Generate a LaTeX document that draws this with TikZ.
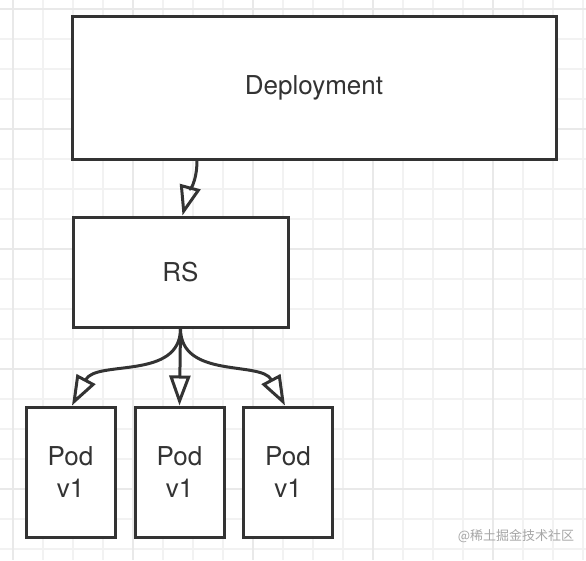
\documentclass[tikz,border=0pt]{standalone}
\usepackage{fontspec}
\setmainfont{TeX Gyre Heros}
\newfontfamily\cjk{Noto Sans CJK SC}
\usetikzlibrary{arrows.meta,positioning}
\definecolor{inkgray}{RGB}{51,51,51}
\definecolor{gridminor}{RGB}{242,242,242}
\definecolor{gridmajor}{RGB}{233,233,233}

\begin{document}
\begin{tikzpicture}[x=1pt,y=1pt,box/.style={draw=inkgray,line width=3pt,fill=white,align=center,text=inkgray,font=\fontsize{26}{32}\selectfont,inner sep=0pt},pod/.style={box,minimum width=89pt,minimum height=130pt},link/.style={draw=inkgray,line width=3pt,line join=round,-{Triangle[open,length=30pt,width=21pt]}}]
\useasboundingbox[fill=white] (0,0) rectangle (586,-560);
% grid paper
\foreach \i in {0,...,19} \draw[gridminor,line width=1.5pt] (13+30*\i,0) -- (13+30*\i,-560);
\foreach \i in {0,...,18} \draw[gridminor,line width=1.5pt] (0,-9-30*\i) -- (586,-9-30*\i);
\foreach \i in {0,...,4} \draw[gridmajor,line width=1.5pt] (13+120*\i,0) -- (13+120*\i,-560);
\foreach \i in {0,...,4} \draw[gridmajor,line width=1.5pt] (0,-9-120*\i) -- (586,-9-120*\i);
\node[box,minimum width=484pt,minimum height=143pt] (dep) at (314,-87.5) {Deployment};
\node[box,minimum width=215pt,minimum height=110pt] (rs) at (180.5,-272) {RS};
\node[pod] (pod1) at (70.5,-472) {Pod\\v1};
\node[pod] (pod2) at (179.5,-472) {Pod\\v1};
\node[pod] (pod3) at (288,-472) {Pod\\v1};
\draw[link] ([xshift=-117pt]dep.south) to[out=-90,in=75] ([xshift=2pt]rs.north);
\draw[link] (rs.south) to[out=-90,in=62] ([xshift=1.5pt]pod1.north);
\draw[link] (rs.south) -- (pod2.north);
\draw[link] (rs.south) to[out=-90,in=118] ([xshift=-3pt]pod3.north);
\node[text=gray!70,font=\cjk\fontsize{13}{15}\selectfont] (mark) at (516,-536) {@稀土掘金技术社区};
\end{tikzpicture}
\end{document}
